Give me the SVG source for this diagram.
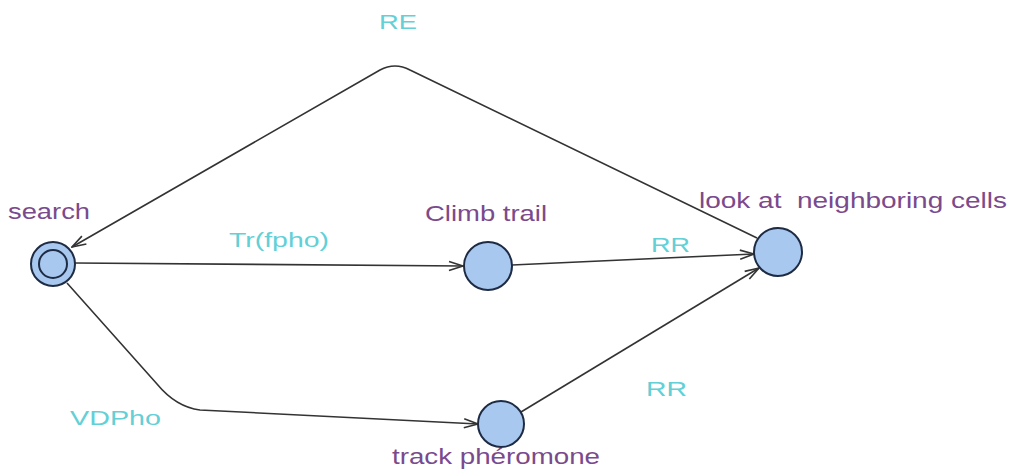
<svg xmlns="http://www.w3.org/2000/svg" width="1013" height="476" viewBox="0 0 1013 476">
  <style>
    .loc { fill: #a9c8ef; stroke: #1e2b44; stroke-width: 2; }
    .edge { fill: none; stroke: #333333; stroke-width: 1.6; marker-end: url(#arrow); }
    .name { font-family: "Liberation Sans", Arial, sans-serif; font-size: 22px; fill: #7a4a8c; }
    .guard { font-family: "Liberation Sans", Arial, sans-serif; font-size: 21px; fill: #62d0d6; }
  </style>
  <defs>
    <marker id="arrow" viewBox="0 0 16 12" refX="15" refY="6" markerWidth="16" markerHeight="12" markerUnits="userSpaceOnUse" orient="auto">
      <path d="M1,1.5 L15,6 L1,10.5" fill="none" stroke="#333333" stroke-width="1.6"/>
    </marker>
  </defs>
  <rect width="1013" height="476" fill="#ffffff"/>

  <g id="connectors">
    <path id="e-search-climb" class="edge" d="M75,263 L463,266"/>
    <path id="e-climb-look" class="edge" d="M512,265 L754,254"/>
    <path id="e-track-look" class="edge" d="M521,412 L759,268"/>
    <path id="e-search-track" class="edge" d="M67,283 L157,384 Q176,407 200,410 L478,424"/>
    <path id="e-look-search" class="edge" d="M757,238 L410,70 Q395,62 380,70 L72,247"/>
    <text class="guard" x="379" y="29" textLength="38" lengthAdjust="spacingAndGlyphs">RE</text>
    <text class="guard" x="229" y="247" textLength="100" lengthAdjust="spacingAndGlyphs">Tr(fpho)</text>
    <text class="guard" x="651" y="252" textLength="39" lengthAdjust="spacingAndGlyphs">RR</text>
    <text class="guard" x="646" y="396" textLength="41" lengthAdjust="spacingAndGlyphs">RR</text>
    <text class="guard" x="70" y="425" textLength="91" lengthAdjust="spacingAndGlyphs">VDPho</text>
  </g>

  <g id="search">
    <circle class="loc" cx="53" cy="264" r="22"/>
    <circle class="loc" cx="53" cy="264" r="14" stroke-width="2.6"/>
    <text class="name" x="8" y="219" textLength="82" lengthAdjust="spacingAndGlyphs">search</text>
  </g>

  <g id="climb-trail">
    <circle class="loc" cx="488" cy="266" r="24"/>
    <text class="name" x="425" y="221" textLength="122" lengthAdjust="spacingAndGlyphs">Climb trail</text>
  </g>

  <g id="look-at-neighboring-cells">
    <circle class="loc" cx="778" cy="252" r="24"/>
    <text class="name" x="699" y="208" textLength="308" lengthAdjust="spacingAndGlyphs" xml:space="preserve">look at  neighboring cells</text>
  </g>

  <g id="track-pheromone">
    <circle class="loc" cx="501" cy="424" r="23"/>
    <text class="name" x="392" y="464" textLength="208" lengthAdjust="spacingAndGlyphs">track phéromone</text>
  </g>
</svg>
